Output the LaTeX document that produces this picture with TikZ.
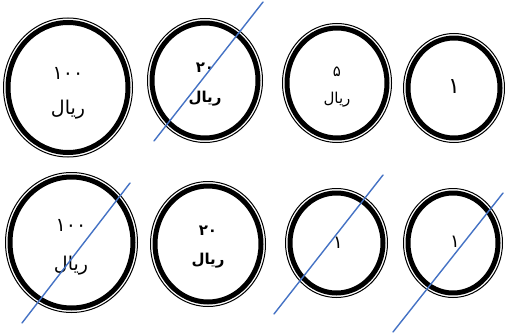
\documentclass[tikz,border=0pt]{standalone}
\usepackage{fontspec}
\newfontfamily\arabicfont[Script=Arabic]{DejaVu Sans}
\TeXXeTstate=1
\definecolor{strikeblue}{RGB}{68,114,196}
\tikzset{
  coinlbl/.style={font=\arabicfont\fontsize{19}{19}\selectfont,inner sep=0pt},
  coinbold/.style={font=\arabicfont\bfseries\fontsize{15}{15}\selectfont,inner sep=0pt},
  coinsmall/.style={font=\arabicfont\fontsize{15}{15}\selectfont,inner sep=0pt},
  strike/.style={strikeblue,line width=1.4pt}
}
\begin{document}
\begin{tikzpicture}[x=1pt,y=-1pt,line cap=round,line join=round]
    \useasboundingbox (0,0) rectangle (505,334);
    % coins
    \foreach \n/\x/\y/\rx/\ry in {a/68/87.5/65/70,b/205/80.5/58/62.5,c/337/83/55/60,d/454/88/51/55,
      e/71.5/242.5/66.5/70.5,f/208/244/58/63,g/336.5/243/51.5/55,h/453/243/50/55}{
      \coordinate (\n) at (\x,\y);
      \draw[line width=1pt] (\n) ellipse ({\rx-0.5} and {\ry-0.5});
      \draw[line width=5pt] (\n) ellipse ({\rx-5} and {\ry-5});
    }
    % labels
    \node[coinlbl] (a1) at (68,73) {۱۰۰};
    \node[coinlbl] (a2) at (68,110) {\beginR ریال\endR};
    \node[coinbold] (b1) at (205,68) {۲۰};
    \node[coinbold] (b2) at (205,99) {\beginR ریال\endR};
    \node[coinsmall] (c1) at (337,72) {۵};
    \node[coinsmall] (c2) at (337,100) {\beginR ریال\endR};
    \node[coinlbl,font=\arabicfont\fontsize{22}{22}\selectfont] (d1) at (454,87) {۱};
    \node[coinlbl] (e1) at (71,225) {۱۰۰};
    \node[coinlbl] (e2) at (71,266) {\beginR ریال\endR};
    \node[coinbold] (f1) at (208,231) {۲۰};
    \node[coinbold] (f2) at (208,261) {\beginR ریال\endR};
    \node[coinsmall,font=\arabicfont\fontsize{18}{18}\selectfont] (g1) at (338,243) {۱};
    \node[coinsmall,font=\arabicfont\fontsize{18}{18}\selectfont] (h1) at (455,242) {۱};
    % strikes
    \coordinate (sb0) at (154,141); \coordinate (sb1) at (263,2);
    \coordinate (se0) at (22,323); \coordinate (se1) at (130,183);
    \coordinate (sg0) at (274,314); \coordinate (sg1) at (383,175);
    \coordinate (sh0) at (393,332); \coordinate (sh1) at (503,193);
    \draw[strike] (sb0)--(sb1);
    \draw[strike] (se0)--(se1);
    \draw[strike] (sg0)--(sg1);
    \draw[strike] (sh0)--(sh1);
\end{tikzpicture}
\end{document}
